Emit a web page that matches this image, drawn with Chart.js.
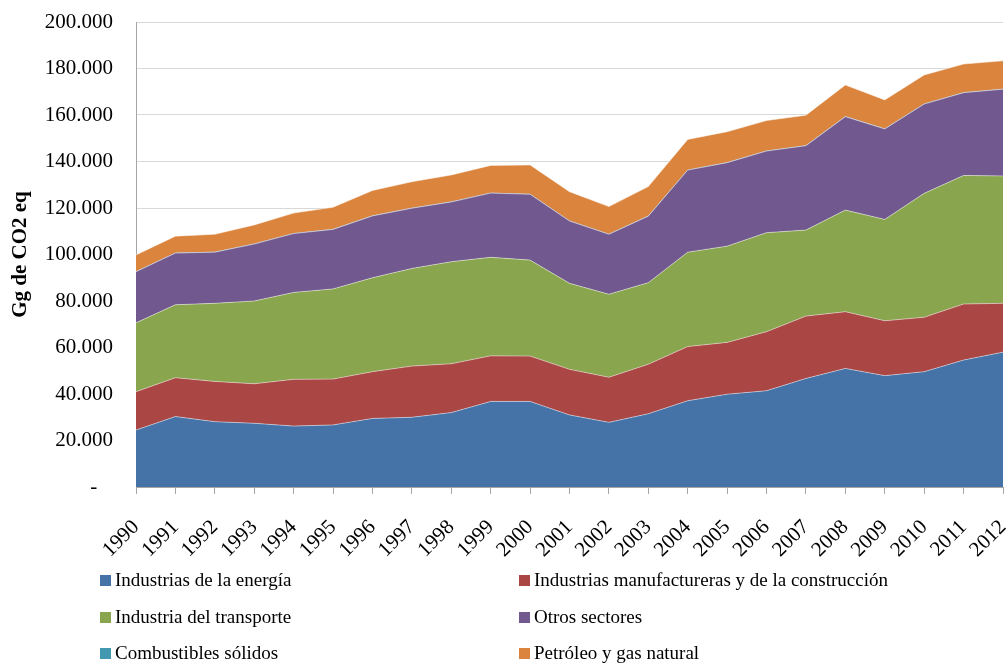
<!DOCTYPE html>
<html>
<head>
<meta charset="utf-8">
<script src="https://cdn.jsdelivr.net/npm/chart.js@4/dist/chart.umd.min.js"></script>
<style>
  html, body { margin: 0; padding: 0; background: #fff; }
  #wrap { position: relative; width: 1007px; height: 664px; }
  #c { position: absolute; left: 0; top: 0; }
  .lg { position: absolute; font-family: "Liberation Serif", "Times New Roman", serif; font-size: 19px; color: #000; white-space: nowrap; line-height: 22px; height: 22px; }
  .lg span.box { display: inline-block; width: 11px; height: 11px; margin-right: 4px; vertical-align: 0px; }
</style>
</head>
<body>
<div id="wrap">
  <canvas id="c" width="1007" height="664"></canvas>
  <div id="legend"></div>
</div>
<script>
// Categories (years)
const years = ["1990","1991","1992","1993","1994","1995","1996","1997","1998","1999","2000","2001","2002","2003","2004","2005","2006","2007","2008","2009","2010","2011","2012"];

// Series values, Gg CO2 eq (stacked components)
const energia       = [24500,30300,28100,27400,26200,26700,29500,30000,32000,36800,36800,31000,27800,31500,37100,39900,41400,46700,51000,47900,49600,54600,58000];
const manufactura   = [16500,16700,17300,17000,20100,19700,20100,22000,21000,19600,19500,19600,19400,21300,23300,22300,25400,26800,24400,23600,23400,24100,21000];
const transporte    = [29600,31400,33600,35600,37400,38800,40400,42000,43900,42400,41300,37000,35700,35100,40600,41400,42600,37000,43700,43600,53300,55300,54800];
const otros         = [22000,22200,22000,24500,25300,25600,26600,25900,25700,27600,28300,26800,25800,28600,35300,35900,35100,36300,40200,38900,38400,35600,37300];
const combustibles  = [0,0,0,0,0,0,0,0,0,0,0,0,0,0,0,0,0,0,0,0,0,0,0];
const petroleo      = [7200,7300,7700,8200,8800,9500,10900,11400,11600,11900,12600,12600,11900,12700,13200,13300,13100,13100,13600,12500,12500,12300,12200];

// Tick values of the value axis
const yTicks = [0,20000,40000,60000,80000,100000,120000,140000,160000,180000,200000];

const seriesNames = ["Industrias de la energía","Industrias manufactureras y de la construcción","Industria del transporte","Otros sectores","Combustibles sólidos","Petróleo y gas natural"];
const seriesData = [energia, manufactura, transporte, otros, combustibles, petroleo];
const colors = ["#4572A7","#AA4643","#89A54E","#71588F","#4198AF","#DB843D"];

function fmt(v) {
  if (v === 0) return "-   ";
  return v.toString().replace(/\B(?=(\d{3})+(?!\d))/g, ".");
}

const datasets = seriesData.map((d, i) => ({
  label: seriesNames[i],
  data: d,
  backgroundColor: colors[i],
  borderColor: i === 4 ? "rgba(170,200,215,0.9)" : "rgba(255,255,255,0.45)",
  borderWidth: 1,
  pointRadius: 0,
  tension: 0,
  fill: i === 0 ? "origin" : "-1"
}));

new Chart(document.getElementById("c"), {
  type: "line",
  data: { labels: years, datasets: datasets },
  options: {
    responsive: false,
    animation: false,
    layout: { padding: { left: 0, right: 4, top: 22, bottom: 0 } },
    plugins: { legend: { display: false }, tooltip: { enabled: false } },
    scales: {
      x: {
        offset: false,
        grid: { display: true, drawOnChartArea: false, drawTicks: true, tickLength: 7, color: "#a6a6a6" },
        border: { display: true, color: "#a6a6a6" },
        ticks: {
          autoSkip: false, minRotation: 45, maxRotation: 45, padding: 21,
          color: "#000",
          font: { family: "Liberation Serif", size: 21 }
        },
        afterFit: (s) => { s.height = 177; s.paddingRight = 0; s.paddingLeft = 0; }
      },
      y: {
        stacked: true,
        min: 0, max: 200000,
        afterBuildTicks: (s) => { s.ticks = yTicks.map(v => ({ value: v })); },
        grid: { color: "#d9d9d9", drawTicks: false },
        border: { display: true, color: "#a6a6a6" },
        ticks: {
          padding: 23,
          color: "#000",
          font: { family: "Liberation Serif", size: 21 },
          callback: (v) => fmt(v)
        },
        title: {
          display: true,
          text: "Gg de CO2 eq",
          color: "#000",
          padding: { top: 8, bottom: 0 },
          font: { family: "Liberation Serif", size: 21, weight: "bold" }
        },
        afterFit: (s) => { s.width = 136; s.paddingTop = 0; s.paddingBottom = 0; }
      }
    }
  }
});

// Legend (two columns, three rows)
const lg = document.getElementById("legend");
const colX = [100, 519];
const rowY = [569, 606, 642];
seriesNames.forEach((n, i) => {
  const d = document.createElement("div");
  d.className = "lg";
  d.style.left = colX[i % 2] + "px";
  d.style.top = rowY[Math.floor(i / 2)] + "px";
  d.innerHTML = '<span class="box" style="background:' + colors[i] + '"></span>' + n;
  lg.appendChild(d);
});
</script>
</body>
</html>
